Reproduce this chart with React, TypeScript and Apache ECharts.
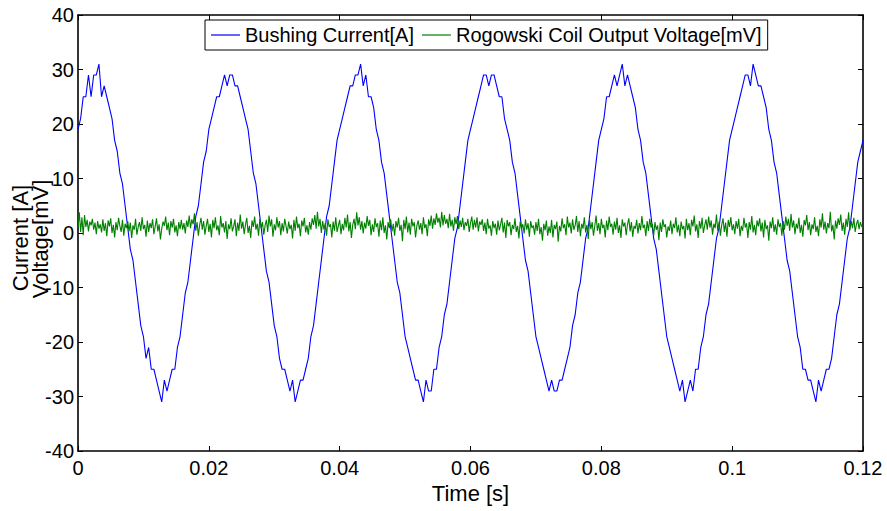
import React, { useEffect, useRef } from "react";
import * as echarts from "echarts";

// Sampling intervals of the traces [s]
const CURRENT_STEP = 0.0004;
const VOLTAGE_STEP = 0.0002;

// Bushing current [A] (one value per sample)
const bushingCurrent: number[] = [
  // 0 - 0.02 s
  19, 21, 25, 25, 29, 25, 29, 29, 31, 25, 27, 25, 23, 21, 17, 15, 11, 9, 5, 1, -3, -5, -9, -13, -17,
  -19, -23, -21, -25, -25, -27, -29, -31, -27, -29, -27, -25, -25, -21, -19, -15, -11, -9, -5, -1, 3, 5, 9, 13, 15,
  // 0.02 - 0.04 s
  19, 21, 23, 25, 25, 27, 29, 27, 29, 29, 27, 27, 25, 23, 21, 19, 15, 11, 9, 5, 1, -3, -7, -9, -13,
  -17, -19, -23, -25, -25, -27, -29, -27, -31, -29, -27, -27, -25, -23, -19, -17, -13, -9, -5, -1, 3, 5, 9, 13, 17,
  // 0.04 - 0.06 s
  19, 21, 23, 25, 27, 27, 29, 29, 31, 27, 29, 25, 25, 23, 19, 17, 13, 11, 7, 3, -1, -5, -9, -11, -15,
  -19, -21, -23, -25, -27, -27, -29, -31, -27, -29, -29, -25, -25, -21, -19, -15, -13, -9, -5, -1, 1, 5, 9, 13, 17,
  // 0.06 - 0.08 s
  19, 21, 23, 25, 27, 29, 29, 27, 29, 29, 27, 25, 25, 21, 19, 17, 13, 11, 7, 3, -1, -5, -7, -11, -15,
  -19, -21, -23, -25, -27, -29, -27, -29, -29, -27, -27, -25, -23, -21, -17, -15, -11, -9, -5, -1, 1, 5, 9, 13, 17,
  // 0.08 - 0.10 s
  19, 21, 25, 25, 27, 29, 27, 29, 31, 27, 29, 27, 25, 23, 19, 17, 13, 11, 7, 3, -1, -3, -7, -11, -15,
  -19, -21, -23, -25, -27, -29, -27, -31, -29, -27, -29, -25, -25, -21, -19, -15, -13, -9, -5, -1, 1, 5, 9, 13, 17,
  // 0.10 - 0.12 s
  19, 21, 23, 25, 27, 29, 29, 27, 31, 29, 27, 27, 25, 23, 19, 17, 13, 11, 7, 3, -1, -5, -7, -11, -15,
  -19, -21, -25, -25, -27, -27, -29, -31, -27, -29, -27, -25, -25, -23, -19, -15, -13, -9, -5, -1, 1, 5, 9, 13, 15,
  17,
];

// Rogowski coil output voltage [mV] (one value per sample)
const coilVoltage: number[] = [
  1.0, 3.8, 0.2, 2.9, -0.4, 3.3, 1.1, 2.4, 0.3, 2.1, 1.4, 2.6, 0.6, 1.9, -0.2, 2.2, 0.8, 1.6, 0.1, 2.5,
  0.4, 1.8, -0.6, 2.3, 1.2, 2.7, 0.0, 1.5, -0.8, 2.0, 0.5, 2.8, 1.3, 0.2, 2.4, -0.5, 1.7, 0.9, 2.2, 0.3,
  1.9, -0.9, 1.4, 0.6, 2.6, -0.3, 1.1, 2.0, 0.4, 2.9, 0.7, 1.5, -0.7, 2.3, 0.2, 1.8, 0.9, 2.5, -0.2, 1.2,
  2.7, 0.3, 1.6, -1.2, 0.8, 2.1, 1.3, 3.0, 0.5, 1.9, -0.4, 2.2, 1.0, 2.6, 0.1, 1.4, -0.6, 2.0, 0.7, 2.4,
  0.6, 1.8, -0.1, 2.3, 1.1, 3.2, 0.9, 2.5, 1.6, 3.6, 0.4, 2.0, -0.5, 1.5, 2.8, 0.6, 2.2, -0.3, 1.3, 2.6,
  0.2, 1.7, -0.8, 2.4, 0.9, 2.9, 0.5, 1.4, -0.4, 3.1, 1.0, 1.8, 0.1, 2.2, -1.1, 1.6, 0.7, 2.7, 0.3, 1.2,
  2.5, -0.6, 1.9, 0.4, 3.4, 0.8, 2.1, -0.2, 1.5, 2.8, 0.0, 1.3, -0.9, 2.3, 1.1, 3.0, 0.6, 1.7, -0.5, 2.6,
  0.9, 2.0, -0.3, 1.4, 2.4, 0.2, 3.2, 1.2, 2.5, -0.7, 1.6, 0.5, 2.9, 1.0, 2.2, -0.4, 1.8, 0.3, 2.6, 1.3,
  -0.1, 2.1, 0.7, 1.5, -1.0, 2.4, 0.4, 3.0, 0.9, 1.7, -0.6, 2.3, 1.2, 2.8, 0.1, 1.4, -0.3, 2.0, 0.6, 2.7,
  1.5, 3.3, 0.8, 3.9, 1.2, 2.6, 0.0, 2.2, 0.6, 1.8, -0.5, 2.5, 1.1, 1.6, -0.8, 2.1, 0.4, 2.9, 0.2, 1.3,
  2.4, -0.2, 1.7, 0.5, 2.8, 1.0, 3.4, 0.3, 2.0, -0.9, 1.5, 2.6, 0.7, 3.8, 1.4, 2.9, 0.6, 2.2, -0.1, 1.9,
  0.8, 3.1, 1.3, 2.4, -0.4, 1.6, 0.2, 2.7, 1.1, 1.8, -0.7, 2.3, 0.5, 2.9, 0.0, 1.4, -1.2, 2.0, 0.9, 2.5,
  0.3, 1.7, -0.5, 2.2, 1.0, 2.8, 0.4, 1.5, -1.5, 2.4, 0.7, 3.0, 0.1, 1.9, -0.3, 2.6, 1.2, 2.0, -0.8, 1.3,
  2.3, 0.6, 1.8, -0.2, 2.9, 0.9, 1.6, -0.6, 2.5, 1.3, 3.2, 0.8, 2.7, 1.5, 3.6, 1.9, 2.8, 1.0, 3.9, 1.4,
  3.3, 1.7, 2.6, 0.9, 3.5, 1.2, 2.4, 0.4, 2.9, 1.6, 3.1, 0.7, 2.3, 1.1, 2.8, 0.5, 2.0, 1.3, 2.6, 0.2,
  1.8, 3.0, 0.6, 2.4, 1.0, 2.9, 0.3, 2.1, 1.5, 2.5, 0.4, 1.9, -0.2, 2.6, 0.8, 1.4, -0.5, 2.2, 0.9, 1.7,
  -0.3, 2.3, 0.5, 1.6, 2.8, 0.1, 1.9, -0.9, 2.4, 1.2, 2.0, -0.4, 1.5, 0.7, 2.7, 0.2, 1.3, -1.0, 2.1, 0.8,
  1.6, -0.1, 2.5, 0.6, 1.8, -0.7, 2.2, 0.9, 1.4, -0.3, 2.0, 0.4, 2.6, -0.2, 1.1, -1.4, 1.7, 0.5, 2.3, -0.5,
  1.2, 0.0, 2.4, -0.8, 1.5, 0.7, 2.1, -1.6, 1.3, 0.3, 2.7, 0.9, 1.6, -0.4, 3.0, 1.0, 1.9, -0.1, 2.5, 0.6,
  1.4, 3.1, 0.2, 2.2, -0.6, 1.7, 0.8, 2.9, 0.1, 1.5, -1.1, 2.4, 0.7, 2.0, -0.5, 1.3, 3.2, 0.4, 1.8, -0.2,
  2.6, 0.9, 1.5, -0.8, 2.3, 0.5, 3.0, 1.1, 1.7, -0.3, 2.1, 0.6, 2.8, 0.0, 1.4, -0.9, 2.5, 1.2, 1.9, -0.4,
  1.6, 2.7, 0.3, 2.0, -0.7, 1.3, 0.8, 2.4, -0.1, 1.8, 0.5, 3.1, 0.9, 1.5, -0.6, 2.2, 0.4, 2.6, 1.0, 1.7,
  -0.5, 2.0, 0.6, 1.4, -1.3, 1.9, 0.2, 2.5, 1.1, 1.6, -0.8, 1.2, 0.4, 2.3, -0.2, 1.7, 0.9, 2.9, 0.1, 1.5,
  -0.6, 2.1, 0.7, 1.3, -1.0, 2.6, 0.5, 1.8, -0.4, 2.4, 1.2, 3.2, 0.3, 1.6, -0.9, 2.2, 0.8, 2.8, 0.0, 1.4,
  2.5, 0.6, 3.0, 1.0, 2.3, -0.3, 1.7, 0.9, 3.4, 0.4, 2.1, -0.5, 1.5, 2.7, 0.2, 1.9, -0.7, 2.4, 1.1, 2.9,
  0.5, 1.6, -0.2, 2.2, 0.8, 2.6, -0.6, 1.3, 0.4, 2.8, 1.0, 1.8, -0.9, 2.0, 0.6, 3.1, 0.1, 1.5, -0.4, 2.3,
  1.2, 2.7, 0.3, 1.9, -0.8, 2.4, 0.7, 1.4, -1.4, 2.1, 0.9, 2.9, 0.2, 1.6, -0.3, 2.5, 1.1, 1.8, -0.5, 2.2,
  0.6, 3.0, 1.3, 2.6, 0.4, 3.5, 1.0, 2.3, -0.2, 1.7, 0.8, 2.8, 0.0, 1.5, -0.7, 2.4, 1.4, 3.3, 0.5, 2.0,
  -0.4, 1.6, 0.7, 2.9, 0.2, 1.3, -0.6, 2.5, 1.0, 3.6, 0.6, 2.1, -0.1, 1.8, 0.9, 3.9, 0.3, 1.5, -1.2, 2.3,
  0.8, 2.7, 1.5, 3.4, 0.4, 1.9, -0.3, 2.6, 1.1, 3.8, 0.5, 2.2, 0.9, 2.8, 0.2, 1.6, 2.4, 0.7, 2.0, 1.2,
  1.0,
];

const seriesNames = ["Bushing Current[A]", "Rogowski Coil Output Voltage[mV]"];
const xTicks = { min: 0, max: 0.12, interval: 0.02 };
const yTicks = { min: -40, max: 40, interval: 10 };
const xLabel = "Time [s]";
const yLabels = ["Current [A]", "Voltage[mV]"];

const FONT = "'Liberation Sans', Arial, Helvetica, sans-serif";

export default function App() {
  const ref = useRef<HTMLDivElement>(null);

  useEffect(() => {
    document.body.style.margin = "0";
    if (!ref.current) return;
    const chart = echarts.init(ref.current, undefined, { renderer: "svg" });

    const toPairs = (arr: number[], step: number) => arr.map((v, i) => [i * step, v]);
    const fmt = (v: number) => String(Number(v.toFixed(4)));

    const axisLine = { show: true, onZero: false, lineStyle: { color: "#000", width: 1.6 } };
    const tick = { show: true, inside: true, length: 5, lineStyle: { color: "#000", width: 1 } };

    chart.setOption({
      animation: false,
      backgroundColor: "#fff",
      textStyle: { fontFamily: FONT },
      grid: { left: 78, right: 24, top: 15, bottom: 60, containLabel: false },
      legend: {
        left: 205,
        top: 20,
        padding: [5, 6, 5, 6],
        itemGap: 8,
        itemWidth: 29,
        itemHeight: 1.2,
        icon: "rect",
        borderColor: "#000",
        borderWidth: 1,
        backgroundColor: "#fff",
        textStyle: { fontFamily: FONT, fontSize: 20, color: "#000", padding: [0, 0, 0, 0] },
        data: seriesNames,
      },
      xAxis: [
        {
          type: "value",
          min: xTicks.min,
          max: xTicks.max,
          interval: xTicks.interval,
          position: "bottom",
          axisLine,
          axisTick: tick,
          splitLine: { show: false },
          axisLabel: { color: "#000", fontSize: 20, fontFamily: FONT, margin: 7, formatter: fmt },
          name: xLabel,
          nameLocation: "middle",
          nameGap: 29,
          nameTextStyle: { color: "#000", fontSize: 22, fontFamily: FONT },
        },
        {
          type: "value",
          min: xTicks.min,
          max: xTicks.max,
          interval: xTicks.interval,
          position: "top",
          axisLine,
          axisTick: tick,
          splitLine: { show: false },
          axisLabel: { show: false },
        },
      ],
      yAxis: [
        {
          type: "value",
          min: yTicks.min,
          max: yTicks.max,
          interval: yTicks.interval,
          position: "left",
          axisLine,
          axisTick: tick,
          splitLine: { show: false },
          axisLabel: { color: "#000", fontSize: 20, fontFamily: FONT, margin: 4 },
        },
        {
          type: "value",
          min: yTicks.min,
          max: yTicks.max,
          interval: yTicks.interval,
          position: "right",
          axisLine,
          axisTick: tick,
          splitLine: { show: false },
          axisLabel: { show: false },
        },
      ],
      series: [
        {
          name: seriesNames[0],
          type: "line",
          data: toPairs(bushingCurrent, CURRENT_STEP),
          symbol: "none",
          color: "#0000ff",
          lineStyle: { color: "#0000ff", width: 1.1 },
          z: 2,
        },
        {
          name: seriesNames[1],
          type: "line",
          data: toPairs(coilVoltage, VOLTAGE_STEP),
          symbol: "none",
          color: "#008000",
          lineStyle: { color: "#008000", width: 1.1 },
          z: 3,
        },
      ],
      graphic: [
        {
          type: "text",
          x: 20,
          y: 238,
          rotation: Math.PI / 2,
          style: {
            text: yLabels[0],
            fontSize: 22,
            fontFamily: FONT,
            fill: "#000",
            align: "center",
            verticalAlign: "middle",
          },
        },
        {
          type: "text",
          x: 40,
          y: 239,
          rotation: Math.PI / 2,
          style: {
            text: yLabels[1],
            fontSize: 22,
            fontFamily: FONT,
            fill: "#000",
            align: "center",
            verticalAlign: "middle",
          },
        },
      ],
    });

    return () => chart.dispose();
  }, []);

  return <div ref={ref} style={{ width: 887, height: 511 }} />;
}
